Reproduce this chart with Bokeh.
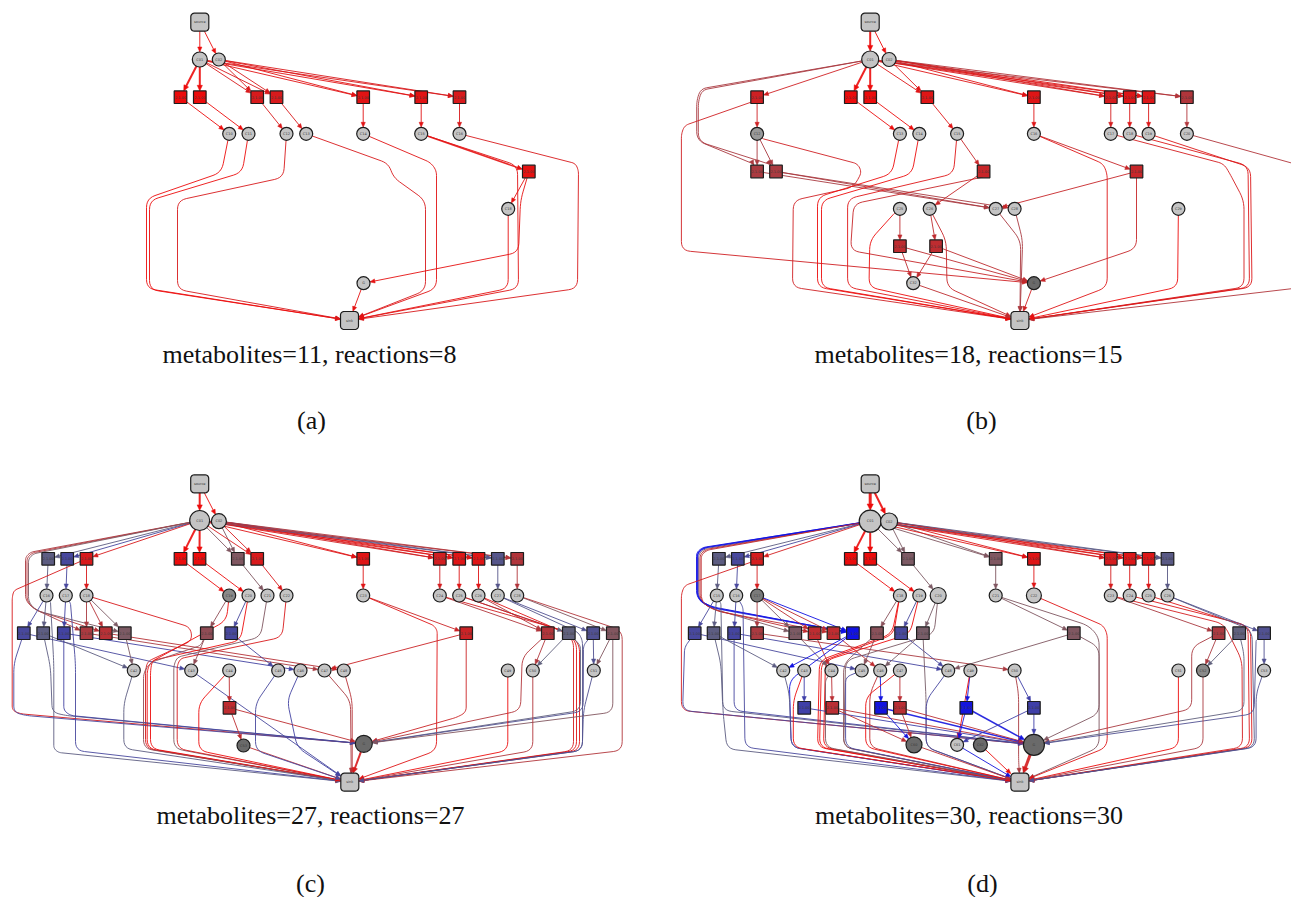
import math
from bokeh.plotting import figure
from bokeh.models import Range1d
from bokeh.embed import file_html
from bokeh.resources import INLINE
from bokeh.core.properties import value

# ---------------- data ----------------
CAPTIONS = ["metabolites=11, reactions=8", "metabolites=18, reactions=15",
            "metabolites=27, reactions=27", "metabolites=30, reactions=30"]
SUBLABELS = ["(a)", "(b)", "(c)", "(d)"]
CAP_X = [309, 968, 310, 968.5]
CAP_Y = [353.5, 353.5, 815, 815]      # vertical centres of the caption lines
SUB_X = [311, 981, 310, 982]
SUB_Y = [420, 420, 882.5, 882.5]      # vertical centres of the sub-labels

# node kinds: s=source, m=metabolite, r=reaction, t=sink ; scores: reaction colour value (-1 blue .. +1 red)
A_X = [199.3, 199.3, 218.3, 180, 199.3, 256.7, 276, 362.7, 420.7, 459,
       228.7, 248, 286, 305.7, 362.7, 420.7, 459, 528.3, 507.7, 363, 349]
A_Y = [21.7, 59, 59] + [96.7] * 7 + [133.3] * 7 + [171, 208.3, 282.7, 320]
A_KIND = "smm" + "r" * 7 + "m" * 7 + "rmmt"
A_SCORE = [0, 0, 0, 1, 1, .85, .85, .92, .92, .85, 0, 0, 0, 0, 0, 0, 0, .95, 0, 0, 0]
A_EDGES = [
    (0, 1, []), (0, 2, []),
    (1, 3, [], 2), (1, 4, [], 2), (1, 5, []), (2, 5, []), (1, 6, []), (2, 6, []),
    (1, 7, []), (2, 7, []), (1, 8, []), (2, 8, []), (1, 9, []), (2, 9, []),
    (3, 10, []), (4, 11, []), (5, 12, []), (6, 13, []), (7, 14, []), (8, 15, []), (9, 16, []),
    (10, 20, [(221, 172), (146, 198), (146, 288)]),
    (11, 20, [(241.7, 172), (149, 200), (149, 289)]),
    (12, 20, [(283, 177), (177, 200), (177, 289)]),
    (13, 20, [(388, 163), (393, 177), (425, 200), (425, 290)]),
    (14, 20, [(430, 162), (436, 170), (436, 288)]),
    (15, 17, [], 1.5),
    (15, 20, [(517, 165), (518, 288)]),
    (16, 20, [(575, 163), (578, 170), (577, 288)]),
    (17, 18, []),
    (17, 19, [(526.7, 177), (520, 200), (518, 252)]),
    (18, 20, [(507.7, 288)]),
    (19, 20, []),
]
A_RAD = {1: 7.5, 2: 6.5}
A_FILL = {}

B_X = [869.7, 869.7, 888.6,
       756.6, 850.3, 869.7, 926.8, 1033.4, 1110.3, 1129.2, 1148.1, 1186.4,
       756.6, 899.4, 918.8, 956.6, 1033.4, 1110.3, 1129.2, 1148.1, 1186.4,
       756.6, 775.5, 983.1, 1136,
       899.4, 929.2, 995.2, 1014.1, 1177.9,
       899.4, 935.6, 912.7, 1033.4, 1019.4]
B_Y = [21.7, 59, 59] + [96.7] * 9 + [133.3] * 9 + [171] * 4 + [208.3] * 5 + [245.7] * 2 + [282.7] * 2 + [320]
B_KIND = "smm" + "r" * 9 + "m" * 9 + "r" * 4 + "m" * 5 + "rr" + "mm" + "t"
B_SCORE = [0, 0, 0, .78, 1, 1, .9, .9, .82, .88, .88, .55] + [0] * 9 + [.5, .5, .72, .72] + [0] * 5 + [.65, .65, 0, 0, 0]
B_EDGES = [
    (0, 1, [], 2), (0, 2, []),
    (1, 3, []), (1, 4, [], 2), (1, 5, [], 2), (1, 6, []), (2, 6, []),
    (1, 7, []), (2, 7, []), (1, 8, []), (2, 8, []), (1, 9, []), (2, 9, []),
    (1, 10, []), (2, 10, []), (1, 11, []), (2, 11, []),
    (1, 21, [(700.2, 88.3), (696.2, 100), (696.2, 140), (752.6, 163.3)]),
    (1, 22, [(701.5, 89.5), (697.8, 101), (697.8, 141), (770, 164)]),
    (3, 12, []),
    (3, 33, [(750.5, 101.7), (684.1, 125), (680.9, 133.3), (680.9, 250)]),
    (12, 21, []), (12, 22, []),
    (12, 34, [(762.6, 138.3), (857.2, 163.3), (861.2, 171.7), (853.2, 186.7), (792.8, 200), (792, 286.7)]),
    (21, 27, []), (22, 27, []), (22, 28, []),
    (4, 13, []), (5, 14, []), (6, 15, []), (7, 16, []), (8, 17, []), (9, 18, []), (10, 19, []), (11, 20, []),
    (13, 34, [(891.4, 173.3), (817, 196.7), (817, 286.7)]),
    (14, 34, [(911.5, 173.3), (821, 200), (821, 286.7)]),
    (15, 23, []),
    (15, 34, [(953, 173.3), (847.1, 198.3), (847.1, 286.7)]),
    (23, 26, []),
    (23, 33, [(982, 176.7), (853.2, 203.3), (850, 250)]),
    (16, 24, []),
    (16, 34, [(1102.7, 163.3), (1106.7, 173.3), (1106.7, 286.7)]),
    (24, 27, []),
    (24, 33, [(1136, 248)]),
    (17, 34, [(1223.4, 163.3), (1229.4, 173.3), (1243.5, 200), (1243.5, 286.7)]),
    (18, 34, [(1247.5, 165), (1249, 286.7)]),
    (19, 34, [(1250, 167), (1251.5, 286.7)]),
    (20, 34, [(1300, 165), (1304, 200), (1304, 286.7)]),
    (25, 30, []),
    (25, 34, [(893.4, 213.3), (869.3, 240), (868.5, 286.7)]),
    (26, 31, []),
    (26, 34, [(945.7, 240), (946.5, 286.7)]),
    (30, 32, []), (31, 32, []), (30, 33, []), (31, 33, []),
    (27, 34, [(1020.2, 240)]),
    (28, 34, [(1022.2, 240)]),
    (29, 34, [(1177.1, 286.7)]),
    (32, 34, []), (33, 34, []),
]
B_RAD = {1: 8.5, 2: 7}
B_FILL = {12: "#9a9a9a", 33: "#6a6a6a"}

C_X = [199.2, 199.2, 218.4,
       47.7, 66.7, 86, 180, 199, 237.3, 256.7, 362.7, 439.3, 458.7, 478, 497.3, 516.7,
       46, 65.3, 86, 228.7, 248, 267, 286, 362.7, 439.3, 458.7, 478, 497.3, 516.7,
       23.3, 42.7, 63.3, 86, 105.3, 124.3, 206.3, 230.7, 465.7, 547.3, 568.3, 592.7, 612.3,
       133.3, 190.7, 228.7, 277.7, 300, 324, 343.3, 507.3, 532.3, 593.3,
       229, 243, 363.3, 349.3]
C_Y = [483.3, 520, 520.7] + [558.3] * 13 + [595] * 13 + [632.7] * 13 + [670] * 10 + [707.3, 745, 743.3, 781.7]
C_KIND = "smm" + "r" * 13 + "m" * 13 + "r" * 13 + "m" * 10 + "r" + "mm" + "t"
C_SCORE = ([0, 0, 0] + [-.12, -.35, .85, 1, 1, .18, .85, .9, .8, .9, .9, -.2, .55] + [0] * 13 +
           [-.35, -.12, -.4, .5, .6, .15, .3, -.35, .75, .55, -.08, -.25, .2] + [0] * 10 + [.65, 0, 0, 0])
C_EDGES = [
    (0, 1, [], 2), (0, 2, []),
    (1, 3, []), (1, 4, []), (1, 5, []), (1, 6, [], 2), (1, 7, [], 2), (1, 8, []), (2, 8, []),
    (2, 9, []), (1, 9, []), (1, 10, []), (2, 10, []),
    (1, 11, []), (2, 11, []), (1, 12, []), (2, 12, []), (1, 13, []), (2, 13, []),
    (1, 14, []), (2, 14, []), (1, 15, []), (2, 15, []),
    (1, 32, [(30, 551.7), (25, 556.7), (25, 600), (33.3, 608.3)]),
    (1, 33, [(31.5, 552.5), (26.5, 557.5), (26.5, 601), (35, 609.5)]),
    (1, 34, [(33, 553.3), (28, 558.3), (28, 602), (36.7, 610.5)]),
    (3, 16, []), (4, 17, []), (5, 18, []), (6, 19, []), (7, 20, []), (8, 21, []), (9, 22, []),
    (10, 23, []), (11, 24, []), (12, 25, []), (13, 26, []), (14, 27, []), (15, 28, []),
    (5, 54, [(13.3, 590), (11.7, 597), (11.7, 710), (20, 713.3)]),
    (16, 29, []), (16, 30, []),
    (16, 55, [(50, 601.7), (53.3, 663), (53.3, 748), (58, 752)]),
    (17, 31, []),
    (17, 55, [(70, 603), (75, 663), (75, 750)]),
    (18, 32, []), (18, 33, []), (18, 34, []),
    (18, 55, [(190, 626.7), (191.7, 640), (147, 661), (145, 670), (145, 748)]),
    (29, 43, []),
    (29, 54, [(13.3, 663), (13.3, 711.7), (25, 715)]),
    (30, 42, []),
    (30, 54, [(50, 666.7), (51.7, 711.7), (65, 715)]),
    (31, 54, [(63.3, 710), (70, 715)]),
    (31, 46, []),
    (32, 47, []), (33, 48, []),
    (34, 42, []),
    (19, 35, []),
    (19, 55, [(226, 620), (150, 661.7), (146.7, 670), (146.7, 748)]),
    (20, 36, []),
    (20, 55, [(240, 640), (151.7, 660), (150, 670), (150, 748)]),
    (21, 55, [(260, 636.7), (176.7, 656.7), (173.3, 665), (173.3, 748)]),
    (22, 55, [(281.7, 636.7), (180, 658), (176.7, 665), (176.7, 748)]),
    (35, 43, []),
    (35, 55, [(200, 645), (150, 662), (143, 672), (143, 748)]),
    (36, 45, []),
    (42, 55, [(123.3, 703), (123.3, 748)]),
    (43, 55, []),
    (44, 52, []),
    (44, 55, [(198.3, 703), (198.3, 750)]),
    (52, 53, []), (52, 54, []),
    (53, 55, []),
    (45, 55, [(255, 703), (255, 750)]),
    (46, 55, [(286.7, 700), (296.7, 747)]),
    (47, 55, [(350, 700), (350.7, 770)]),
    (48, 55, [(351.7, 700), (351.7, 770)]),
    (23, 37, []),
    (23, 55, [(433.3, 625), (436.7, 630), (436, 750)]),
    (37, 47, []),
    (37, 54, [(465.7, 711.7), (456.7, 716.7)]),
    (24, 38, []), (26, 38, []), (25, 39, []),
    (24, 55, [(563, 630), (573, 640), (573, 750)]),
    (25, 55, [(566, 632), (576, 642), (576, 750)]),
    (26, 55, [(569, 634), (579, 644), (579, 750)]),
    (27, 40, []),
    (27, 55, [(578, 632), (582, 640), (582, 750)]),
    (28, 41, []),
    (28, 55, [(621.7, 630), (621.7, 750)]),
    (38, 50, []),
    (38, 54, [(521.7, 656.7), (520, 710)]),
    (39, 50, []),
    (39, 54, [(580, 645), (580, 710)]),
    (40, 51, []),
    (40, 54, [(583, 645), (582.7, 711)]),
    (41, 51, []),
    (41, 54, [(612.3, 711.7)]),
    (49, 55, [(507.3, 750)]),
    (50, 55, [(532.3, 750)]),
    (51, 55, [(583, 710), (581.7, 750)]),
    (54, 55, [], 2),
]
C_RAD = {1: 10, 2: 7.5, 54: 8.5}
C_FILL = {19: "#8a8a8a", 53: "#6a6a6a", 54: "#6a6a6a"}

D_X = [869.7, 869.7, 888.6,
       718.4, 737.3, 756.6, 850.3, 869.7, 907.5, 995.2, 1033.4, 1110.3, 1129.2, 1148.1, 1167,
       716.3, 735.7, 756.6, 899.4, 918.8, 937.7, 995.2, 1033.4, 1110.3, 1129.2, 1148.1, 1167,
       694.2, 713.1, 733.6, 756.6, 794.8, 814.1, 833, 852.4, 876.5, 900.6, 922.4, 1073.3, 1218.1, 1238.7, 1263.6,
       782.7, 803.7, 831, 861.2, 879.7, 899.4, 947.7, 969.9, 1014.1, 1177.9, 1202.5, 1263.6,
       803.7, 831.8, 880.5, 899.4, 965.8, 1033.4,
       913.5, 956.6, 979.9, 1033.4, 1019.4]
D_Y = [483.3, 520.7, 521] + [558.3] * 12 + [595] * 12 + [632.7] * 15 + [670] * 12 + [707.3] * 6 + [744.3] * 4 + [781.7]
D_KIND = "smm" + "r" * 12 + "m" * 12 + "r" * 15 + "m" * 12 + "r" * 6 + "m" * 4 + "t"
D_SCORE = ([0, 0, 0] + [-.12, -.35, .82, 1, 1, .15, .18, .9, .82, .88, .88, -.15] + [0] * 12 +
           [-.35, -.12, -.38, .5, .15, .65, .65, -.95, .25, -.35, .12, .18, .5, -.08, -.25] + [0] * 12 +
           [-.45, .62, -.92, .62, -.9, -.45] + [0] * 5)
D_EDGES = [
    (0, 1, [], 3), (0, 2, [], 2),
    (1, 3, []), (1, 4, []), (1, 5, []), (1, 6, [], 2), (1, 7, [], 2), (1, 8, []), (2, 8, []),
    (1, 9, []), (2, 9, []), (1, 10, []), (2, 10, []),
    (1, 11, []), (2, 11, []), (1, 12, []), (2, 12, []), (1, 13, []), (2, 13, []), (1, 14, []), (2, 14, []),
    (1, 31, [(704.3, 548.3), (698.2, 553.3), (698.2, 600), (712.3, 608.3)]),
    (1, 32, [(705.5, 549), (699.5, 554), (699.5, 601), (714, 609.5)]),
    (1, 34, [(703, 547.5), (697, 552.5), (697, 599), (711, 607)], 1.5),
    (1, 34, [(702, 547), (696, 552), (696, 598), (710, 606)]),
    (1, 33, [(706.5, 549.7), (700.7, 554.7), (700.7, 602), (715.5, 610.5)]),
    (3, 15, []), (4, 16, []), (5, 17, []), (6, 18, []), (7, 19, []), (8, 20, []), (9, 21, []),
    (10, 22, []), (11, 23, []), (12, 24, []), (13, 25, []), (14, 26, []),
    (5, 63, [(750.5, 561.7), (684.1, 585), (680.9, 593.3), (680.9, 710)]),
    (15, 27, []), (15, 28, []),
    (15, 64, [(720.4, 603.3), (722.4, 710), (726.4, 748.3)]),
    (16, 29, []),
    (16, 64, [(742.5, 606.7), (744.5, 746.7)]),
    (17, 30, []), (17, 32, []), (17, 33, []), (17, 34, []), (17, 31, []),
    (27, 63, [(684.1, 646.7), (682.1, 710)]),
    (27, 45, []),
    (28, 42, []),
    (28, 63, [(720.4, 663.3), (722.4, 710)]),
    (29, 63, [(733.6, 710)]),
    (29, 48, []),
    (30, 50, []),
    (31, 44, []), (32, 44, []), (33, 46, []),
    (34, 42, []),
    (34, 64, [(788.8, 680), (790.8, 746.7)]),
    (18, 35, []),
    (18, 64, [(891.4, 633.3), (819, 660), (817, 746.7)]),
    (18, 64, [(893, 634), (821, 661), (819, 746.7)]),
    (19, 36, []),
    (19, 64, [(909.5, 633.3), (825, 660), (823, 746.7)]),
    (20, 37, []),
    (20, 64, [(933.6, 633.3), (845.1, 660), (843.1, 746.7)]),
    (21, 38, []),
    (21, 64, [(1088, 625), (1098.6, 636.7), (1098.6, 746.7)]),
    (22, 64, [(1102.7, 625), (1106.7, 633.3), (1106.7, 746.7)]),
    (23, 39, []),
    (23, 64, [(1223.4, 623.3), (1241.5, 660), (1242, 746.7)]),
    (24, 64, [(1247.5, 625), (1249, 746.7)]),
    (25, 64, [(1250, 627), (1251.5, 746.7)]),
    (26, 41, []),
    (26, 64, [(1251.5, 630), (1254, 746.7)]),
    (35, 45, []),
    (35, 64, [(843.1, 663.3), (843.1, 746.7)]),
    (36, 48, []),
    (37, 46, []),
    (37, 64, [(925.6, 700), (925.6, 746.7)]),
    (38, 48, []),
    (38, 63, [(1098.6, 646.7), (1098.6, 713)]),
    (39, 52, []),
    (39, 63, [(1191.2, 646.7), (1191.2, 708.3)]),
    (40, 52, []),
    (40, 63, [(1243.5, 653.3), (1243.5, 710)]),
    (41, 53, []),
    (41, 63, [(1255.6, 640), (1253.6, 713.3)]),
    (42, 64, [(788.8, 693.3), (790.8, 746.7)]),
    (43, 54, []),
    (43, 64, [(792.8, 700), (792.8, 746.7)]),
    (44, 55, []),
    (44, 64, [(825, 680), (825, 746.7)]),
    (45, 64, [(845.1, 676.7), (845.1, 746.7)]),
    (46, 56, []),
    (46, 64, [(869.3, 693.3), (869.3, 746.7)]),
    (47, 57, []),
    (47, 64, [(865.2, 696.7), (865.2, 746.7)]),
    (48, 64, [(925.6, 700), (925.6, 746.7)]),
    (49, 58, []), (49, 61, []),
    (50, 59, []),
    (50, 64, [(1018.1, 693.3), (1018.1, 760)]),
    (51, 64, [(1177.9, 746.7)]),
    (52, 64, [(1202.5, 746.7)]),
    (53, 64, [(1255.6, 693.3), (1255.6, 746.7)]),
    (54, 63, []),
    (55, 60, []), (55, 63, []),
    (56, 60, []), (56, 63, [], 1.5),
    (57, 60, []), (57, 63, []),
    (58, 61, []), (58, 63, [], 1.5),
    (59, 63, []), (59, 61, []),
    (60, 64, []), (61, 64, []), (62, 64, []), (63, 64, [], 3),
]
D_RAD = {1: 11, 2: 8.5, 20: 8, 22: 7.5, 60: 8, 62: 7, 63: 10.5}
D_FILL = {17: "#7a7a7a", 52: "#8a8a8a", 60: "#6a6a6a", 62: "#6a6a6a", 63: "#6a6a6a"}

GNODE = {"a": 19, "b": 33, "c": 54, "d": 63}

# ---------------- figure ----------------
W, H = 1291, 897
p = figure(width=W, height=H, x_range=Range1d(0, W), y_range=Range1d(H, 0),
           output_backend="svg", toolbar_location=None, min_border=0,
           x_axis_location=None, y_axis_location=None)
p.grid.visible = False
p.outline_line_color = None

MID = (104, 104, 116)
RED = (236, 12, 12)
BLUE = (12, 12, 232)


def score_color(s):
    end = RED if s >= 0 else BLUE
    t = min(abs(s), 1.0)
    c = [int(round(MID[k] + (end[k] - MID[k]) * t)) for k in range(3)]
    return "#%02x%02x%02x" % tuple(c)


R0, SQ, BOX = 6.5, 6.3, 9.0


def clip_point(cx, cy, tx, ty, kind, r):
    dx, dy = tx - cx, ty - cy
    d = math.hypot(dx, dy) or 1.0
    ux, uy = dx / d, dy / d
    if kind == "m":
        t = r
    else:
        h = SQ if kind == "r" else BOX
        t = h / max(abs(ux), abs(uy), 1e-6)
    return cx + ux * t, cy + uy * t


def round_corners(pts, rad=9.0, n=6):
    if len(pts) < 3:
        return list(pts)
    out = [pts[0]]
    for k in range(1, len(pts) - 1):
        (x0, y0), (x1, y1), (x2, y2) = pts[k - 1], pts[k], pts[k + 1]
        d1 = math.hypot(x1 - x0, y1 - y0) or 1.0
        d2 = math.hypot(x2 - x1, y2 - y1) or 1.0
        rr = min(rad, d1 / 2, d2 / 2)
        ax, ay = x1 - (x1 - x0) / d1 * rr, y1 - (y1 - y0) / d1 * rr
        bx, by = x1 + (x2 - x1) / d2 * rr, y1 + (y2 - y1) / d2 * rr
        for m in range(n + 1):
            t = m / n
            out.append(((1 - t) ** 2 * ax + 2 * (1 - t) * t * x1 + t * t * bx,
                        (1 - t) ** 2 * ay + 2 * (1 - t) * t * y1 + t * t * by))
    out.append(pts[-1])
    return out


def edge_score(i, j, K, S, E):
    if K[j] == "r":
        return S[j]
    if K[i] == "r":
        return S[i]
    for e in E:
        if e[1] == i and K[e[0]] == "r":
            return S[e[0]]
    return 1.0


def rrect(cx, cy, hw, hh, rr, n=5):
    pts = []
    for ccx, ccy, a0 in [(cx + hw - rr, cy - hh + rr, -90), (cx + hw - rr, cy + hh - rr, 0),
                         (cx - hw + rr, cy + hh - rr, 90), (cx - hw + rr, cy - hh + rr, 180)]:
        for k in range(n + 1):
            a = math.radians(a0 + 90 * k / n)
            pts.append((ccx + rr * math.cos(a), ccy + rr * math.sin(a)))
    return pts


def draw_panel(X, Y, K, S, E, RAD, FILL, g):
    xs, ys, cols, wids = [], [], [], []
    hx, hy, hc = [], [], []
    for e in E:
        i, j, via = e[0], e[1], e[2]
        w = e[3] if len(e) > 3 else 1.0
        col = score_color(edge_score(i, j, K, S, E))
        mid = [tuple(v) for v in via]
        first = mid[0] if mid else (X[j], Y[j])
        last = mid[-1] if mid else (X[i], Y[i])
        a = clip_point(X[i], Y[i], first[0], first[1], K[i], RAD.get(i, R0))
        b = clip_point(X[j], Y[j], last[0], last[1], K[j], RAD.get(j, R0))
        pts = round_corners([a] + mid + [b])
        (px, py), (ex, ey) = pts[-2], pts[-1]
        dx, dy = ex - px, ey - py
        d = math.hypot(dx, dy) or 1.0
        ux, uy = dx / d, dy / d
        L = 5.0 + 0.6 * (w - 1)
        hw = 2.1 + 0.5 * (w - 1)
        bx, by = ex - ux * L, ey - uy * L
        hx.append([ex, bx - uy * hw, bx + uy * hw])
        hy.append([ey, by + ux * hw, by - ux * hw])
        hc.append(col)
        pts[-1] = (bx + ux * 1.0, by + uy * 1.0)
        xs.append([q[0] for q in pts])
        ys.append([q[1] for q in pts])
        cols.append(col)
        wids.append(w)
    p.multi_line(xs, ys, line_color=cols, line_width=wids, line_alpha=0.9)
    p.patches(hx, hy, fill_color=hc, line_color=hc, line_width=0.5)

    # metabolites
    mi = [k for k in range(len(X)) if K[k] == "m"]
    p.circle([X[k] for k in mi], [Y[k] for k in mi], radius=[RAD.get(k, R0) for k in mi],
             fill_color=[FILL.get(k, "#c4c4c4") for k in mi], line_color="#1c1c1c", line_width=1.2)
    # reactions
    ri = [k for k in range(len(X)) if K[k] == "r"]
    p.rect([X[k] for k in ri], [Y[k] for k in ri], width=2 * SQ, height=2 * SQ,
           fill_color=[score_color(S[k]) for k in ri], line_color="#1c1c1c", line_width=1.2)
    # source / sink
    bi = [k for k in range(len(X)) if K[k] in "st"]
    bxs, bys = [], []
    for k in bi:
        pts = rrect(X[k], Y[k], BOX, BOX, 3.5)
        bxs.append([q[0] for q in pts])
        bys.append([q[1] for q in pts])
    p.patches(bxs, bys, fill_color="#c4c4c4", line_color="#1c1c1c", line_width=1.2)

    # tiny node labels
    labels = []
    for k in range(len(X)):
        if K[k] == "s":
            labels.append("source")
        elif K[k] == "t":
            labels.append("sink")
        elif k == g:
            labels.append("G")
        elif K[k] == "r":
            labels.append("2.1.00")
        else:
            labels.append("C%02d" % k)
    p.text(X, Y, text=labels, text_font=value("DejaVu Sans"), text_font_size="3.5px",
           text_align="center", text_baseline="middle", text_color="#3a3a3a")


draw_panel(A_X, A_Y, A_KIND, A_SCORE, A_EDGES, A_RAD, A_FILL, GNODE["a"])
draw_panel(B_X, B_Y, B_KIND, B_SCORE, B_EDGES, B_RAD, B_FILL, GNODE["b"])
draw_panel(C_X, C_Y, C_KIND, C_SCORE, C_EDGES, C_RAD, C_FILL, GNODE["c"])
draw_panel(D_X, D_Y, D_KIND, D_SCORE, D_EDGES, D_RAD, D_FILL, GNODE["d"])

p.text(CAP_X, CAP_Y, text=CAPTIONS, text_font=value("Liberation Serif"), text_font_size="26px",
       text_align="center", text_baseline="middle", text_color="#111111")
p.text(SUB_X, SUB_Y, text=SUBLABELS, text_font=value("Liberation Serif"), text_font_size="26px",
       text_align="center", text_baseline="middle", text_color="#111111")

open("out.html", "w").write(file_html(p, INLINE))
